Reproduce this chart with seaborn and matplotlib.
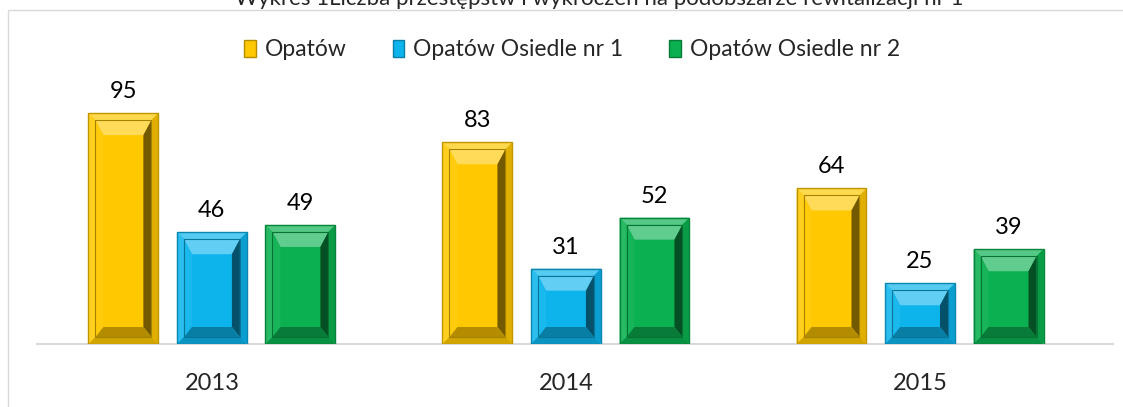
import numpy as np
import pandas as pd
import matplotlib
import matplotlib.pyplot as plt
import seaborn as sns
from matplotlib.patches import Patch, Polygon, Rectangle
from matplotlib.colors import to_rgb

years = ['2013', '2014', '2015']
areas = ['Opatów', 'Opatów Osiedle nr 1', 'Opatów Osiedle nr 2']
opatow = [95, 83, 64]
osiedle_1 = [46, 31, 25]
osiedle_2 = [49, 52, 39]
title = 'Wykres 1Liczba przestępstw i wykroczeń na podobszarze rewitalizacji nr 1'

colors = {'Opatów': '#FFC800', 'Opatów Osiedle nr 1': '#0DB4EC', 'Opatów Osiedle nr 2': '#0BB050'}

rows = []
for i, y in enumerate(years):
    rows.append([y, areas[0], opatow[i]])
    rows.append([y, areas[1], osiedle_1[i]])
    rows.append([y, areas[2], osiedle_2[i]])
df = pd.DataFrame(rows, columns=['Rok', 'Obszar', 'Liczba'])

sns.set_style('white')
plt.rcParams['font.family'] = ['Lato', 'DejaVu Sans']

W, H = 1123, 407
fig = plt.figure(figsize=(W / 100, H / 100), dpi=100)
ax_left, ax_right, ax_bottom, ax_top = 37, 1113, 344, 101
ax = fig.add_axes([ax_left / W, 1 - ax_bottom / H, (ax_right - ax_left) / W, (ax_bottom - ax_top) / H])

sns.barplot(data=df, x='Rok', y='Liczba', hue='Obszar', hue_order=areas, palette=colors,
            width=0.75, gap=0.21, saturation=1, legend=False, ax=ax, linewidth=0)

ax.set_ylim(0, 100)
ax.set_xlim(-0.494, 2.545)

# pixel -> data units
px_x = (ax.get_xlim()[1] - ax.get_xlim()[0]) / (ax_right - ax_left)
px_y = 100 / (ax_bottom - ax_top)


def shade(c, f):
    c = np.array(to_rgb(c))
    if f >= 0:
        return tuple(c + (1 - c) * f)
    return tuple(c * (1 + f))


def bevel(x0, y0, x1, y1, dt, dl, dr, db, cols):
    # dt/dl/dr/db depth in px, cols = (top, left, right, bottom)
    ix0, ix1 = x0 + dl * px_x, x1 - dr * px_x
    iy0, iy1 = y0 + db * px_y, y1 - dt * px_y
    quads = [
        [(x0, y1), (x1, y1), (ix1, iy1), (ix0, iy1)],
        [(x0, y0), (x0, y1), (ix0, iy1), (ix0, iy0)],
        [(x1, y0), (x1, y1), (ix1, iy1), (ix1, iy0)],
        [(x0, y0), (x1, y0), (ix1, iy0), (ix0, iy0)],
    ]
    for q, c in zip(quads, cols):
        ax.add_patch(Polygon(q, closed=True, facecolor=c, edgecolor='none', zorder=3))
    return ix0, iy0, ix1, iy1


for p in list(ax.patches):
    x0, y0 = p.get_x(), p.get_y()
    x1, y1 = x0 + p.get_width(), y0 + p.get_height()
    base = p.get_facecolor()
    ax.add_patch(Rectangle((x0, y0), x1 - x0, y1 - y0, facecolor='none',
                           edgecolor=shade(base, -0.25), lw=1, zorder=4))
    i0 = bevel(x0, y0, x1, y1, 7, 7, 7, 7,
               (shade(base, 0.3), shade(base, 0.12), shade(base, -0.12), shade(base, -0.18)))
    ax.add_patch(Rectangle((i0[0], i0[1]), i0[2] - i0[0], i0[3] - i0[1], facecolor='none',
                           edgecolor=shade(base, -0.35), lw=0.8, zorder=4))
    bevel(*i0, 15, 8, 8, 10,
          (shade(base, 0.35), shade(base, 0.05), shade(base, -0.55), shade(base, -0.3)))

for cont in ax.containers:
    ax.bar_label(cont, padding=8, fontsize=17, color='#000000')

sns.despine(ax=ax, left=True, top=True, right=True)
ax.spines['bottom'].set_color('#D9D9D9')
ax.spines['bottom'].set_linewidth(1.5)
ax.set_yticks([])
ax.set_xlabel('')
ax.set_ylabel('')
ax.tick_params(axis='x', length=0, pad=21, labelsize=17)

handles = [Patch(facecolor=colors[a], edgecolor=shade(colors[a], -0.3), label=a) for a in areas]
fig.legend(handles=handles, loc='center', bbox_to_anchor=(572 / W, 1 - 50 / H), ncol=3,
           frameon=False, fontsize=16.5, handlelength=0.5, handleheight=0.75,
           handletextpad=0.4, columnspacing=2.0)

fig.add_artist(Rectangle((8 / W, -0.05), 1.0, 1 - 10 / H + 0.05, transform=fig.transFigure,
                         fill=False, edgecolor='#D9D9D9', lw=1))
fig.text(599 / W, 1 - 5 / H, title, ha='center', va='baseline', fontsize=16)

fig.savefig('out.png', dpi=100)
